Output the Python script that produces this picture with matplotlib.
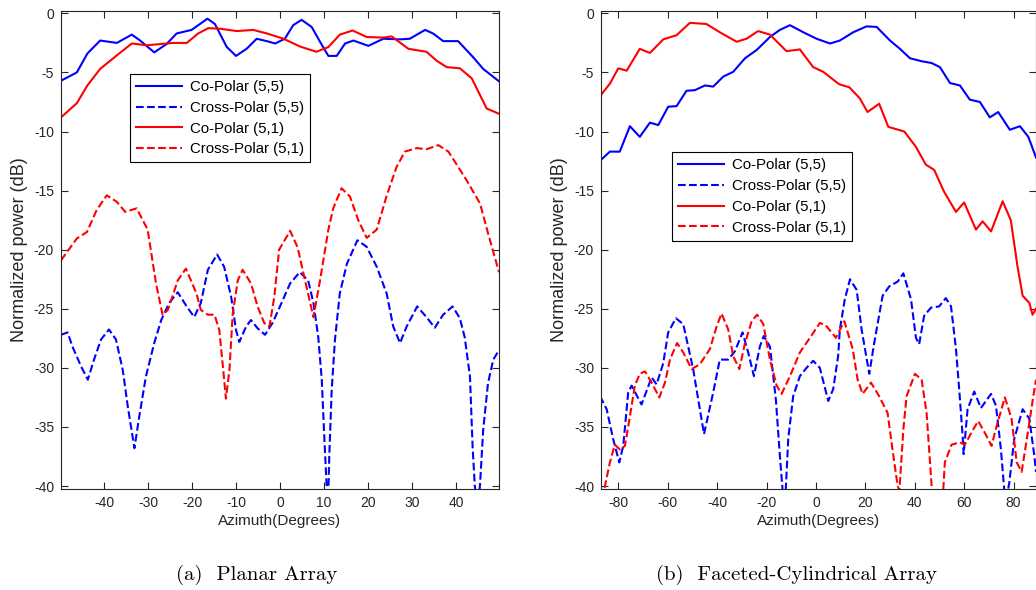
import matplotlib
matplotlib.use("Agg")
import matplotlib.pyplot as plt

plt.rcParams['font.family'] = ['Liberation Sans', 'DejaVu Sans']
plt.rcParams['axes.unicode_minus'] = False

# ---- (a) planar array ----
a_co55_x = [-49.8, -46.2, -43.8, -40.9, -37.1, -33.7, -31.8, -28.6, -25.8, -23.5, -20.1, -18.2, -16.5,
            -14.8, -12.1, -10.0, -7.6, -5.3, -3.0, -1.1, 1.1, 3.0, 4.9, 7.2, 9.1, 11.0, 12.9, 14.8, 16.7,
            20.1, 23.5, 27.3, 29.5, 33.0, 34.8, 37.1, 40.5, 43.9, 46.2, 49.8]
a_co55_y = [-5.7, -5.0, -3.4, -2.3, -2.5, -1.8, -2.3, -3.3, -2.6, -1.7, -1.4, -0.9, -0.45,
            -0.9, -2.85, -3.6, -3.0, -2.15, -2.35, -2.55, -2.15, -1.0, -0.55, -1.15, -2.4, -3.6, -3.6, -2.55, -2.3,
            -2.75, -2.15, -2.2, -2.15, -1.4, -1.7, -2.35, -2.35, -3.7, -4.7, -5.75]

a_cx55_x = [-49.8, -48.3, -47.2, -45.2, -43.7, -42.2, -40.7, -38.9, -37.3, -35.75, -34.6, -33.1, -32.0,
            -30.5, -28.6, -27.0, -25.2, -23.25, -21.4, -19.5, -18.0, -16.4, -14.3, -12.7, -11.1, -10.0,
            -9.25, -7.7, -6.6, -5.1, -3.4, -1.7, 0.0, 2.3, 4.5, 6.4, 7.6, 8.7, 9.5, 10.0, 10.6, 10.9,
            11.2, 11.75, 12.5, 13.6, 15.2, 17.6, 19.7, 22.0, 24.25, 25.75, 27.3, 28.8, 31.2, 33.3, 35.2,
            37.1, 39.25, 40.9, 42.0, 43.2, 43.8, 44.3, 45.0, 45.5, 46.2, 47.3, 48.5, 49.8]
a_cx55_y = [-27.2, -27.0, -28.2, -29.9, -31.0, -29.2, -27.6, -26.75, -27.6, -30.2, -33.3, -36.8, -34.1,
            -30.75, -27.9, -25.95, -24.5, -23.6, -24.7, -25.7, -24.5, -21.7, -20.4, -21.45, -24.0, -26.8,
            -27.8, -26.5, -25.95, -26.65, -27.2, -26.2, -24.8, -22.85, -21.9, -22.6, -24.5, -27.4, -31.0, -35.25, -40.0, -42.0,
            -37.5, -31.9, -27.6, -23.7, -21.2, -19.2, -19.75, -21.45, -23.7, -26.5, -27.9, -26.5, -24.8, -25.7, -26.6,
            -25.5, -24.8, -25.8, -27.4, -30.75, -36.7, -40.0, -42.0, -39.8, -35.25, -31.3, -29.3, -28.5]

a_co51_x = [-49.8, -46.2, -43.8, -40.9, -37.1, -33.7, -30.3, -27.3, -24.2, -21.2, -18.6, -16.3, -13.6,
            -9.8, -6.1, -3.0, 0.8, 4.5, 8.3, 11.0, 13.6, 16.5, 19.7, 23.5, 25.4, 29.2, 33.3, 35.6, 37.9,
            40.9, 43.6, 47.0, 49.8]
a_co51_y = [-8.8, -7.6, -6.1, -4.7, -3.55, -2.55, -2.7, -2.6, -2.5, -2.5, -1.7, -1.25, -1.3,
            -1.5, -1.4, -1.7, -2.15, -2.8, -3.25, -2.85, -1.8, -1.45, -2.0, -2.05, -1.95, -3.0, -3.25, -4.0, -4.55,
            -4.65, -5.5, -8.05, -8.5]

a_cx51_x = [-49.8, -46.2, -43.9, -41.7, -39.4, -37.1, -35.2, -32.6, -30.1, -28.2, -26.7, -25.5, -23.25,
            -21.4, -19.0, -18.0, -16.4, -14.9, -13.8, -12.9, -12.3, -11.5, -10.75, -9.6, -8.5, -6.6, -5.1,
            -3.6, -2.4, -1.3, -0.2, 2.3, 4.0, 5.7, 7.6, 9.1, 11.0, 12.1, 14.0, 15.9, 17.8, 19.7, 22.0, 24.2,
            26.5, 28.4, 31.1, 33.3, 36.0, 38.3, 42.4, 45.5, 47.3, 49.8]
a_cx51_y = [-20.9, -19.05, -18.5, -16.65, -15.4, -15.95, -16.8, -16.5, -18.3, -22.85, -25.5, -25.1, -22.6,
            -21.6, -23.7, -25.1, -25.5, -25.5, -26.8, -30.2, -32.6, -30.2, -25.4, -22.6, -21.7, -22.85, -24.8,
            -26.2, -26.5, -24.0, -20.0, -18.4, -19.8, -22.6, -25.7, -22.6, -18.3, -16.5, -14.8, -15.5, -17.5, -19.0, -18.3, -15.5,
            -13.0, -11.7, -11.4, -11.5, -11.15, -11.7, -14.1, -16.1, -18.6, -21.9]

# ---- (b) faceted-cylindrical array ----
b_co55_x = [-87.0, -83.4, -79.4, -75.3, -71.3, -67.2, -63.8, -59.8, -56.4, -52.4, -49.0, -44.9, -41.6,
            -37.5, -33.5, -28.7, -24.0, -18.6, -14.6, -10.5, -5.1, 0.3, 5.7, 9.7, 15.1, 20.5, 24.6, 30.0,
            34.0, 38.1, 42.8, 46.8, 50.2, 54.3, 58.3, 62.3, 66.4, 70.4, 73.8, 78.5, 82.6, 86.0, 89.1]
b_co55_y = [-12.4, -11.7, -11.7, -9.55, -10.45, -9.25, -9.45, -7.9, -7.85, -6.55, -6.5, -6.1, -6.2,
            -5.35, -4.95, -3.8, -3.1, -2.0, -1.4, -1.0, -1.6, -2.15, -2.55, -2.3, -1.6, -1.1, -1.15, -2.3,
            -3.0, -3.8, -4.05, -4.2, -4.55, -5.9, -6.1, -7.3, -7.5, -8.8, -8.35, -9.85, -9.55, -10.45, -12.2]

b_cx55_x = [-87.4, -84.7, -82.1, -79.6, -78.0, -76.0, -74.6, -70.6, -66.5, -64.5, -61.8, -59.8, -56.7,
            -53.7, -49.7, -45.3, -41.6, -38.9, -35.5, -32.8, -29.7, -27.4, -25.1, -22.7, -21.1, -18.6, -16.2,
            -14.6, -13.5, -12.6, -11.2, -9.2, -6.5, -3.8, -1.1, 1.6, 5.0, 7.0, 9.0, 9.7, 11.7, 13.8, 16.5,
            18.5, 21.6, 23.6, 27.0, 29.7, 33.1, 35.4, 38.5, 40.5, 41.8, 43.8, 46.6, 49.9, 52.6, 54.7, 56.7,
            58.0, 59.4, 59.8, 61.4, 64.1, 66.8, 70.9, 72.9, 74.9, 76.2, 77.2, 78.3, 80.3, 83.7, 86.4, 88.4, 89.1]
b_cx55_y = [-32.4, -33.5, -36.0, -38.0, -36.6, -32.1, -31.5, -33.1, -30.8, -31.4, -29.6, -27.0, -25.8,
            -26.3, -30.1, -35.6, -32.1, -29.3, -29.3, -28.6, -27.0, -28.7, -30.7, -28.2, -27.3, -28.2, -32.7,
            -37.4, -40.3, -42.0, -36.0, -32.4, -30.7, -30.0, -29.4, -30.0, -32.8, -31.8, -29.0, -26.75, -24.2, -22.5, -23.4,
            -26.75, -30.5, -27.9, -23.9, -23.1, -22.7, -22.0, -24.2, -27.45, -28.0, -25.6, -24.9, -24.8, -24.1, -24.8, -28.4,
            -31.8, -35.75, -37.3, -33.5, -32.0, -33.4, -32.2, -33.2, -36.9, -40.2, -41.0, -39.7, -36.0, -33.5, -34.3, -37.4, -38.8]

b_co51_x = [-87.0, -83.4, -80.0, -76.6, -71.3, -67.2, -61.8, -56.4, -51.0, -44.3, -38.9, -32.1, -28.1,
            -23.4, -18.6, -11.9, -6.5, -1.1, 3.0, 9.4, 13.5, 17.8, 20.9, 25.6, 29.3, 31.7, 35.8, 40.5, 44.5,
            47.9, 51.9, 56.7, 60.0, 64.8, 67.5, 70.9, 75.6, 78.9, 81.6, 83.7, 86.4, 87.7, 89.1]
b_co51_y = [-6.9, -5.95, -4.65, -4.85, -3.0, -3.35, -2.2, -1.85, -0.8, -0.9, -1.6, -2.4, -2.15,
            -1.5, -1.8, -3.2, -3.05, -4.55, -4.95, -6.0, -6.25, -7.2, -8.35, -7.65, -9.6, -9.75, -10.0, -11.3, -12.8,
            -13.25, -15.1, -16.8, -16.0, -18.3, -17.6, -18.45, -15.9, -17.5, -21.4, -23.9, -24.5, -25.5, -25.0]

b_cx51_x = [-87.0, -85.4, -83.4, -81.4, -79.4, -77.3, -75.3, -73.3, -71.3, -69.2, -66.5, -63.4, -61.1,
            -59.1, -56.2, -53.7, -50.3, -47.0, -42.9, -40.2, -38.2, -35.5, -33.5, -31.0, -28.7, -26.0, -23.8,
            -21.3, -18.6, -15.9, -13.9, -10.5, -6.5, -2.4, 1.6, 4.0, 8.1, 11.5, 14.9, 16.9, 18.9, 22.3, 25.6,
            29.0, 31.0, 33.1, 33.8, 35.4, 36.7, 40.1, 42.8, 44.8, 46.2, 47.0, 49.3, 51.5, 52.2, 54.9, 58.3,
            60.3, 63.7, 65.7, 68.4, 71.1, 73.2, 76.5, 79.2, 81.3, 83.3, 86.0, 88.0, 89.1]
b_cx51_y = [-42.0, -40.0, -38.0, -36.5, -36.9, -36.6, -34.1, -31.5, -30.5, -30.3, -31.25, -32.5, -31.25,
            -29.3, -27.9, -28.7, -30.1, -29.7, -28.4, -26.5, -25.4, -26.75, -29.0, -30.1, -27.9, -26.05, -25.5,
            -26.3, -29.3, -31.5, -32.2, -30.7, -28.7, -27.45, -26.2, -26.4, -27.45, -26.05, -28.4, -31.0, -32.2, -31.25, -32.4,
            -33.8, -36.9, -40.0, -40.4, -35.2, -32.4, -30.5, -31.0, -33.8, -38.0, -40.5, -44.0, -40.5, -38.0, -36.5, -36.3,
            -36.5, -35.2, -34.5, -35.5, -36.6, -34.9, -32.5, -34.3, -38.0, -38.8, -35.2, -32.4, -31.0]

labels = ['Co-Polar (5,5)', 'Cross-Polar (5,5)', 'Co-Polar (5,1)', 'Cross-Polar (5,1)']

fig = plt.figure(figsize=(10.36, 5.90), dpi=100)
ax1 = fig.add_axes([61 / 1036, 1 - 489 / 590, 438 / 1036, 478 / 590])
ax2 = fig.add_axes([601 / 1036, 1 - 489 / 590, 435 / 1036, 478 / 590])

lw = 1.5
ax1.plot(a_co55_x, a_co55_y, color='blue', lw=lw, label=labels[0])
ax1.plot(a_cx55_x, a_cx55_y, color='blue', lw=lw, ls='--', label=labels[1])
ax1.plot(a_co51_x, a_co51_y, color='red', lw=lw, label=labels[2])
ax1.plot(a_cx51_x, a_cx51_y, color='red', lw=lw, ls='--', label=labels[3])

ax2.plot(b_co55_x, b_co55_y, color='blue', lw=lw, label=labels[0])
ax2.plot(b_cx55_x, b_cx55_y, color='blue', lw=lw, ls='--', label=labels[1])
ax2.plot(b_co51_x, b_co51_y, color='red', lw=lw, label=labels[2])
ax2.plot(b_cx51_x, b_cx51_y, color='red', lw=lw, ls='--', label=labels[3])

ax1.set_xlim(-49.8, 49.8)
ax1.set_xticks(range(-40, 41, 10))
ax2.set_xlim(-87, 89.1)
ax2.set_xticks(range(-80, 81, 20))

for ax, anchor in [(ax1, (0.1575, 0.868)), (ax2, (0.163, 0.704))]:
    ax.set_ylim(-40.25, 0.2)
    ax.set_yticks(range(-40, 1, 5))
    ax.tick_params(direction='in', top=True, right=True, length=5, width=0.8,
                   labelsize=10, colors='#262626', pad=5)
    for s in ax.spines.values():
        s.set_color('#262626')
        s.set_linewidth(0.8)
    ax.set_xlabel('Azimuth(Degrees)', fontsize=11, color='#262626', labelpad=3)
    ax.set_ylabel('Normalized power (dB)', fontsize=13, color='#262626', labelpad=4)
    leg = ax.legend(loc='upper left', bbox_to_anchor=anchor, fontsize=10.8, fancybox=False,
                    framealpha=1, edgecolor='black', handlelength=3.1, handletextpad=0.5,
                    borderaxespad=0, labelspacing=0.45, borderpad=0.4)
    leg.get_frame().set_linewidth(0.8)

fig.text(257 / 1036, 1 - 575 / 590, '(a)  Planar Array', ha='center', va='center',
         family='cmr10', fontsize=15)
fig.text(796 / 1036, 1 - 575 / 590, '(b)  Faceted-Cylindrical Array', ha='center', va='center',
         family='cmr10', fontsize=15)

fig.savefig('out.png', dpi=100)
